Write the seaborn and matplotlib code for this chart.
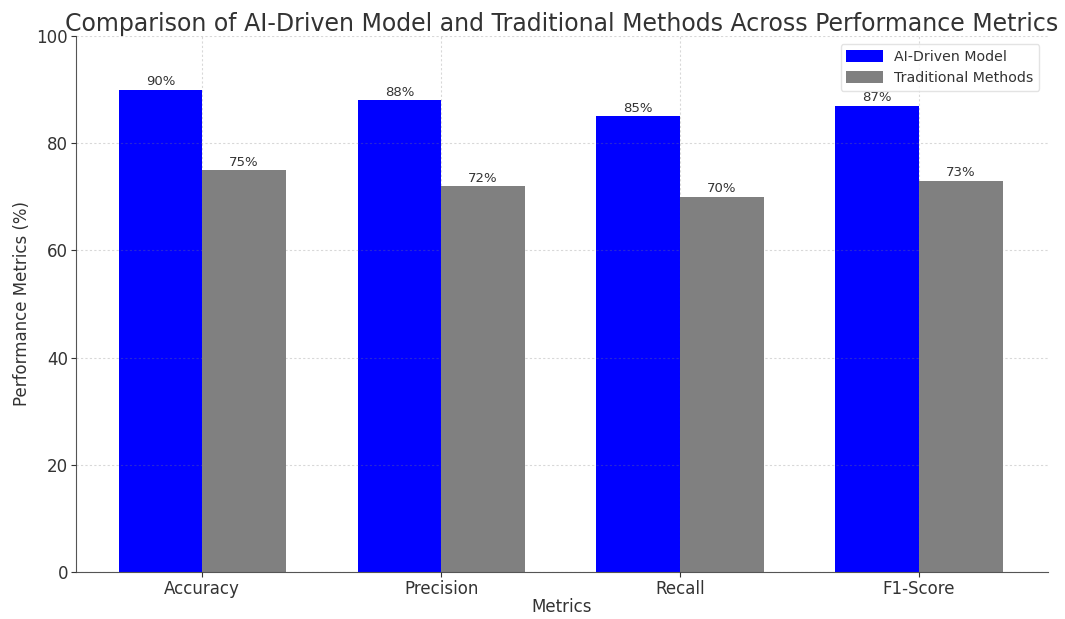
import matplotlib
matplotlib.use("Agg")
import matplotlib.pyplot as plt
import seaborn as sns
import pandas as pd

metrics = ["Accuracy", "Precision", "Recall", "F1-Score"]
ai_values = [90, 88, 85, 87]
trad_values = [75, 72, 70, 73]
series_names = ["AI-Driven Model", "Traditional Methods"]

df = pd.DataFrame({
    "Metric": metrics * 2,
    "Value": ai_values + trad_values,
    "Series": [series_names[0]] * len(metrics) + [series_names[1]] * len(metrics),
})

sns.set_style("ticks")
plt.rcParams['font.family'] = ['DejaVu Sans']
text_color = "#333333"
plt.rcParams['text.color'] = text_color
plt.rcParams['axes.labelcolor'] = text_color
plt.rcParams['xtick.color'] = text_color
plt.rcParams['ytick.color'] = text_color

fig, ax = plt.subplots(figsize=(10.65, 6.19), dpi=100)
sns.barplot(data=df, x="Metric", y="Value", hue="Series",
            palette=["blue", "gray"], width=0.7, saturation=1,
            linewidth=0, ax=ax, errorbar=None)

for cont in ax.containers:
    ax.bar_label(cont, labels=[f"{v:.0f}%" for v in cont.datavalues],
                 fontsize=9.5, color=text_color, padding=1)

ax.set_xlim(-0.53, 3.54)
ax.set_ylim(0, 100)
ax.set_xlabel("Metrics", fontsize=12, labelpad=0)
ax.set_ylabel("Performance Metrics (%)", fontsize=12)
ax.set_title("Comparison of AI-Driven Model and Traditional Methods Across Performance Metrics",
             fontsize=17, color=text_color, pad=3)
ax.tick_params(labelsize=12, pad=2)
ax.grid(True, linestyle=(0, (2, 2)), color="gray", alpha=0.3, linewidth=0.8)
ax.set_axisbelow(False)
for s in ["top", "right"]:
    ax.spines[s].set_visible(False)
for s in ["left", "bottom"]:
    ax.spines[s].set_color("#555555")

leg = ax.legend(loc="upper right", fontsize=10.2, frameon=True, title=None,
                handlelength=2.6, handleheight=0.9, borderaxespad=0.6)
leg.get_frame().set_edgecolor("#dddddd")

fig.subplots_adjust(left=0.071, right=0.984, top=0.942, bottom=0.076)
fig.savefig("out.png", dpi=100)
